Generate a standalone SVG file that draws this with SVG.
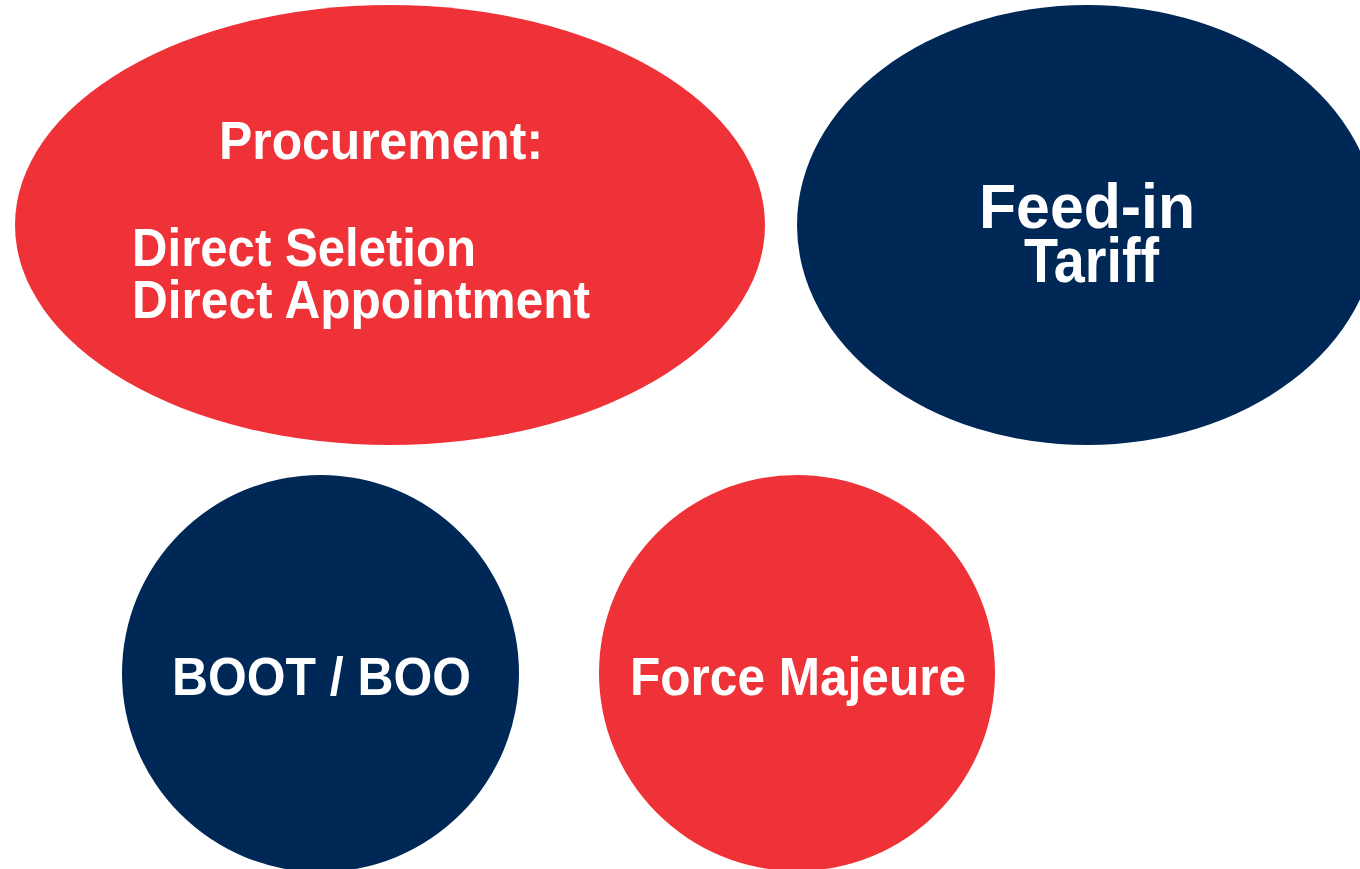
<svg xmlns="http://www.w3.org/2000/svg" width="1360" height="869" viewBox="0 0 1360 869">
<style>
.red{fill:#EE3237}
.navy{fill:#002856}
.t{font-family:"Liberation Sans",Arial,sans-serif;font-weight:bold;fill:#FFFFFF;font-size:53px}
.t2{font-family:"Liberation Sans",Arial,sans-serif;font-weight:bold;fill:#FFFFFF;font-size:63px}
</style>
<rect width="1360" height="869" fill="#FFFFFF"/>
<g id="procurement">
<ellipse class="red" cx="390" cy="225" rx="375" ry="220"/>
<text class="t" x="219" y="159" textLength="324" lengthAdjust="spacingAndGlyphs">Procurement:</text>
<text class="t" x="132" y="266" textLength="344" lengthAdjust="spacingAndGlyphs">Direct Seletion</text>
<text class="t" x="132" y="318" textLength="458" lengthAdjust="spacingAndGlyphs">Direct Appointment</text>
</g>
<g id="feed-in-tariff">
<ellipse class="navy" cx="1087" cy="225" rx="290" ry="220"/>
<text class="t2" x="979" y="228" textLength="216" lengthAdjust="spacingAndGlyphs">Feed-in</text>
<text class="t2" x="1024" y="282" textLength="135" lengthAdjust="spacingAndGlyphs">Tariff</text>
</g>
<g id="boot-boo">
<circle class="navy" cx="320.5" cy="673.5" r="198.5"/>
<text class="t" x="172" y="695" textLength="299" lengthAdjust="spacingAndGlyphs">BOOT / BOO</text>
</g>
<g id="force-majeure">
<circle class="red" cx="797" cy="673" r="198"/>
<text class="t" x="630" y="695" textLength="336" lengthAdjust="spacingAndGlyphs">Force Majeure</text>
</g>
<g id="connectors"></g>
</svg>
